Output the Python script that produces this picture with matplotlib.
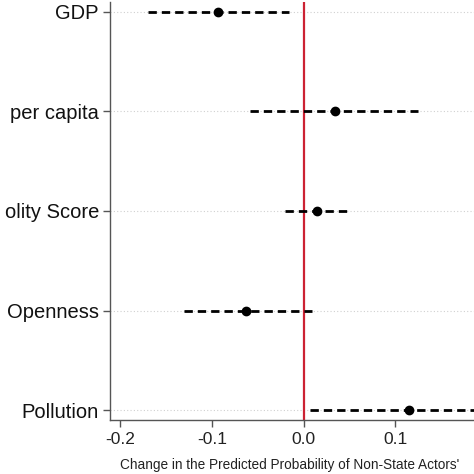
import matplotlib
matplotlib.use("Agg")
import matplotlib.pyplot as plt

plt.rcParams['font.family'] = ['Liberation Sans', 'DejaVu Sans']

labels = ["GDP", "per capita", "olity Score", "Openness", "Pollution"]
estimates = [-0.093, 0.034, 0.014, -0.063, 0.115]
ci_low = [-0.170, -0.059, -0.020, -0.131, 0.007]
ci_high = [-0.016, 0.125, 0.050, 0.009, 0.223]
xticks = [-0.2, -0.1, 0.0, 0.1]
xticklabels = ["-0.2", "-0.1", "0.0", "0.1"]
xlabel = "Change in the Predicted Probability of Non-State Actors'"

W = H = 474
fig = plt.figure(figsize=(W / 100, H / 100), dpi=100)
left_px, bottom_px, right_px, top_px = 110, 420, 487, 2
ax = fig.add_axes([left_px / W, (H - bottom_px) / H,
                   (right_px - left_px) / W, (bottom_px - top_px) / H])

n = len(labels)
ypos = [n - i for i in range(n)]

for y in ypos:
    ax.axhline(y, color="#d0d0d0", lw=0.8, ls=(0, (1, 2)), zorder=0)

ax.axvline(0, color="#cc2233", lw=1.6, zorder=1)

for y, e, lo, hi in zip(ypos, estimates, ci_low, ci_high):
    ax.plot([lo, hi], [y, y], color="black", lw=2.0, ls=(0, (3, 1.8)),
            dash_capstyle="butt", zorder=2)
    ax.plot([e], [y], marker="o", color="black", markersize=6, zorder=3)

ax.set_xlim(-0.2113, 0.2)
ax.set_ylim(0.9, 5.1)
ax.set_yticks(ypos)
ax.set_yticklabels(labels, fontsize=14.5, color="#111111")
ax.set_xticks(xticks)
ax.set_xticklabels(xticklabels, fontsize=12.5, color="#222222")

for s in ["top", "right"]:
    ax.spines[s].set_visible(False)
for s in ["left", "bottom"]:
    ax.spines[s].set_color("#555555")
    ax.spines[s].set_linewidth(1.0)
ax.tick_params(axis="both", direction="out", color="#555555", length=5, width=1.0)
ax.tick_params(axis="y", pad=3)
ax.tick_params(axis="x", pad=4)

ax.set_xlabel(xlabel, fontsize=9.8, color="#222222", ha="left")
ax.xaxis.set_label_coords((120 - left_px) / (right_px - left_px), -0.092)

fig.savefig("out.png", dpi=100)
